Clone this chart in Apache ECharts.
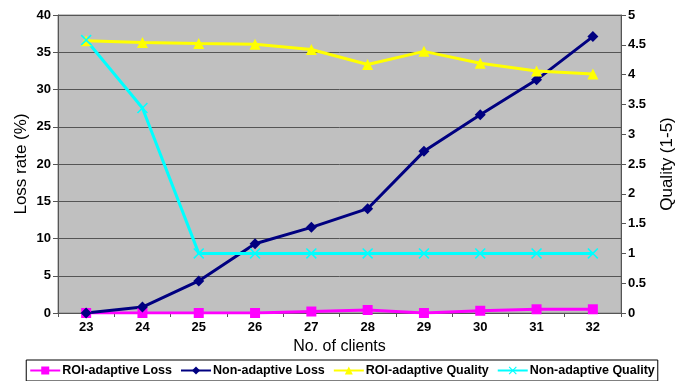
<!DOCTYPE html>
<html>
<head>
<meta charset="utf-8">
<script src="https://cdn.jsdelivr.net/npm/echarts@6/dist/echarts.min.js"></script>
<style>
  html, body { margin: 0; padding: 0; background: #fff; }
  #chart { width: 684px; height: 381px; }
</style>
</head>
<body>
<div id="chart"></div>
<script>
// x categories (number of clients)
var clients = ['23', '24', '25', '26', '27', '28', '29', '30', '31', '32'];
// loss rate (%) - left axis
var roiLoss = [0, 0, 0, 0, 0.2, 0.4, 0, 0.3, 0.5, 0.5];
var nonLoss = [0, 0.8, 4.3, 9.3, 11.5, 14.0, 21.7, 26.6, 31.3, 37.1];
// quality (1-5) - right axis
var roiQuality = [4.57, 4.54, 4.52, 4.51, 4.42, 4.17, 4.39, 4.19, 4.06, 4.01];
var nonQuality = [4.58, 3.44, 1.0, 1.0, 1.0, 1.0, 1.0, 1.0, 1.0, 1.0];

var crossPath = 'path://M1,0L5,4L9,0L10,1L6,5L10,9L9,10L5,6L1,10L0,9L4,5L0,1Z';
var font = 'Liberation Sans, Arial, sans-serif';

var myChart = echarts.init(document.getElementById('chart'));
myChart.setOption({
  animation: false,
  textStyle: { fontFamily: font, color: '#000' },
  grid: { left: 58, right: 63, top: 15, bottom: 68 },
  legend: {
    bottom: 0,
    left: 'center',
    borderColor: '#000',
    borderWidth: 1,
    padding: [4, 3],
    itemGap: 8,
    itemWidth: 30,
    itemHeight: 10,
    textStyle: { fontFamily: font, fontSize: 12.5, fontWeight: 'bold', color: '#000', padding: [0, 0, 0, -3] },
    data: ['ROI-adaptive Loss', 'Non-adaptive Loss', 'ROI-adaptive Quality', 'Non-adaptive Quality']
  },
  xAxis: {
    type: 'category',
    data: clients,
    name: 'No. of clients',
    nameLocation: 'middle',
    nameGap: 26,
    nameMoveOverlap: false,
    nameTextStyle: { fontSize: 16, fontFamily: font, color: '#000' },
    axisLine: { lineStyle: { color: '#555', width: 1 } },
    axisTick: { show: true, length: 4, lineStyle: { color: '#555' } },
    axisLabel: { fontSize: 13, fontWeight: 'bold', color: '#000', margin: 8 }
  },
  yAxis: [
    {
      type: 'value',
      min: 0, max: 40, interval: 5,
      name: 'Loss rate (%)',
      nameLocation: 'middle',
      nameRotate: 90,
      nameGap: 28,
      nameMoveOverlap: false,
      nameTextStyle: { fontSize: 17, fontFamily: font, color: '#000' },
      axisLine: { show: true, lineStyle: { color: '#555' } },
      axisTick: { show: true, length: 5, lineStyle: { color: '#555' } },
      axisLabel: { fontSize: 13, fontWeight: 'bold', color: '#000', margin: 7 },
      splitLine: { lineStyle: { color: '#555', width: 1 } }
    },
    {
      type: 'value',
      min: 0, max: 5, interval: 0.5,
      name: 'Quality (1-5)',
      nameLocation: 'middle',
      nameRotate: 90,
      nameGap: 38,
      nameMoveOverlap: false,
      nameTextStyle: { fontSize: 17, fontFamily: font, color: '#000' },
      axisLine: { show: true, lineStyle: { color: '#555' } },
      axisTick: { show: true, length: 5, lineStyle: { color: '#555' } },
      axisLabel: { fontSize: 13, fontWeight: 'bold', color: '#000', margin: 7 },
      splitLine: { show: false }
    }
  ],
  series: [
    {
      name: 'ROI-adaptive Loss',
      type: 'line',
      yAxisIndex: 0,
      data: roiLoss,
      symbol: 'rect',
      symbolSize: 10,
      itemStyle: { color: '#ff00ff' },
      lineStyle: { color: '#ff00ff', width: 3 }
    },
    {
      name: 'Non-adaptive Loss',
      type: 'line',
      yAxisIndex: 0,
      data: nonLoss,
      symbol: 'diamond',
      symbolSize: 11,
      itemStyle: { color: '#000080' },
      lineStyle: { color: '#000080', width: 3 }
    },
    {
      name: 'ROI-adaptive Quality',
      type: 'line',
      yAxisIndex: 1,
      data: roiQuality,
      symbol: 'triangle',
      symbolSize: 11,
      itemStyle: { color: '#ffff00' },
      lineStyle: { color: '#ffff00', width: 3 }
    },
    {
      name: 'Non-adaptive Quality',
      type: 'line',
      yAxisIndex: 1,
      data: nonQuality,
      symbol: crossPath,
      symbolSize: 11,
      itemStyle: { color: '#00ffff' },
      lineStyle: { color: '#00ffff', width: 3 }
    }
  ],
  graphic: [
    {
      type: 'rect',
      z: -1,
      shape: { x: 58, y: 15, width: 563, height: 298 },
      style: { fill: '#c0c0c0', stroke: '#888', lineWidth: 1 }
    }
  ]
});
</script>
</body>
</html>
